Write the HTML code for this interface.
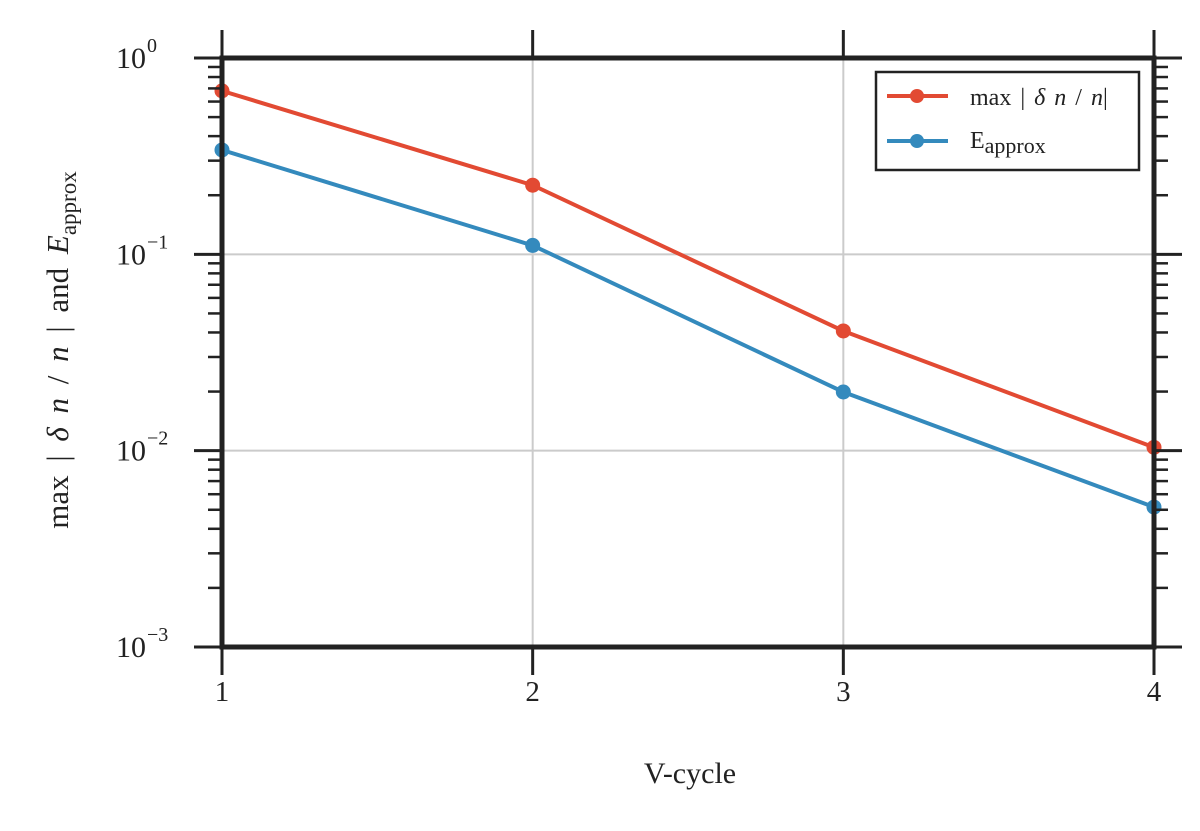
<!DOCTYPE html>
<html><head><meta charset="utf-8"><style>
body{margin:0;background:#fff;}
svg{display:block;font-family:"Liberation Serif",serif;}
</style></head><body>
<svg id="chart" width="1200" height="831">
<g id="grid"></g>
<g id="series"></g>
<g id="axes"></g>
<text x="690" y="783" font-size="30" text-anchor="middle" fill="#222">V-cycle</text>
<text transform="translate(68,350) rotate(-90)" font-size="31" text-anchor="middle" fill="#222" word-spacing="6">max | <tspan font-style="italic">δ n</tspan> / <tspan font-style="italic">n</tspan> |  and  <tspan font-style="italic">E</tspan><tspan font-size="23" dy="8">approx</tspan></text>
<g>
<rect x="876" y="72" width="263" height="98" fill="#fff" stroke="#222" stroke-width="2.5"/>
<g><line x1="887" y1="96" x2="948" y2="96" stroke="#E24A33" stroke-width="4"/><circle cx="917" cy="96" r="7" fill="#E24A33"/><text x="970" y="105" font-size="24" fill="#222" word-spacing="3">max | <tspan font-style="italic">δ n</tspan> / <tspan font-style="italic">n</tspan>|</text></g>
<g><line x1="887" y1="141" x2="948" y2="141" stroke="#348ABD" stroke-width="4"/><circle cx="917" cy="141" r="7" fill="#348ABD"/><text x="970" y="148" font-size="24" fill="#222">E<tspan font-size="22" dy="5">approx</tspan></text></g>
</g>
</svg>
<script>
const xCategories=[1,2,3,4];
const maxDn=[0.68,0.225,0.0407,0.0104];
const eApprox=[0.34,0.111,0.0199,0.00516];
const yTickExps=[0,-1,-2,-3];
const L=222,R=1154,T=58,B=647;
const NS="http://www.w3.org/2000/svg";
function xs(v){return L+(v-1)/(3)*(R-L);}
function ys(v){return T+(0-Math.log10(v))/3*(B-T);}
function mk(p,tag,attrs){const e=document.createElementNS(NS,tag);for(const k in attrs)e.setAttribute(k,attrs[k]);p.appendChild(e);return e;}
const grid=document.getElementById('grid'),axes=document.getElementById('axes'),ser=document.getElementById('series');
xCategories.forEach(c=>{const x=xs(c);
 const g=mk(grid,'line',{x1:x,x2:x,y1:T,y2:B,stroke:'#cbcbcb','stroke-width':2});
 
 
 mk(axes,'line',{x1:x,x2:x,y1:T-28,y2:T,stroke:'#222','stroke-width':3});
 mk(axes,'line',{x1:x,x2:x,y1:B,y2:B+28,stroke:'#222','stroke-width':3});
 const t=mk(axes,'text',{x:x,y:B+54,'font-size':29,'text-anchor':'middle',fill:'#222'});t.textContent=c;
 
 
});
yTickExps.forEach(e=>{const y=ys(Math.pow(10,e));
 if(e>-3&&e<0){const g=mk(grid,'line',{x1:L,x2:R,y1:y,y2:y,stroke:'#cbcbcb','stroke-width':2});
 
 }
 mk(axes,'line',{x1:L-28,x2:L,y1:y,y2:y,stroke:'#222','stroke-width':3});
 mk(axes,'line',{x1:R,x2:R+28,y1:y,y2:y,stroke:'#222','stroke-width':3});
 const t=mk(axes,'text',{x:146,y:y+10,'font-size':30,'text-anchor':'end',fill:'#222'});t.textContent='10';
 
 
 const s=mk(axes,'text',{x:147,y:y-6,'font-size':20,fill:'#222'});s.textContent=e===0?'0':'−'+(-e);
 if(e>-3){for(let m=2;m<=9;m++){const yy=ys(m*Math.pow(10,e-1));
  mk(axes,'line',{x1:L-14,x2:L,y1:yy,y2:yy,stroke:'#222','stroke-width':2.5});
  mk(axes,'line',{x1:R,x2:R+14,y1:yy,y2:yy,stroke:'#222','stroke-width':2.5});}}
});
mk(axes,'rect',{x:L,y:T,width:R-L,height:B-T,fill:'none',stroke:'#222','stroke-width':5});
[[maxDn,'#E24A33','series-max-dn'],[eApprox,'#348ABD','series-eapprox']].forEach(([d,c,n])=>{
 const g=mk(ser,'g',{});
 mk(g,'polyline',{points:d.map((v,i)=>xs(xCategories[i])+','+ys(v)).join(' '),fill:'none',stroke:c,'stroke-width':4});
 d.forEach((v,i)=>{const p=mk(g,'circle',{cx:xs(xCategories[i]),cy:ys(v),r:7.5,fill:c});
  
  });
});
</script>
</body></html>
